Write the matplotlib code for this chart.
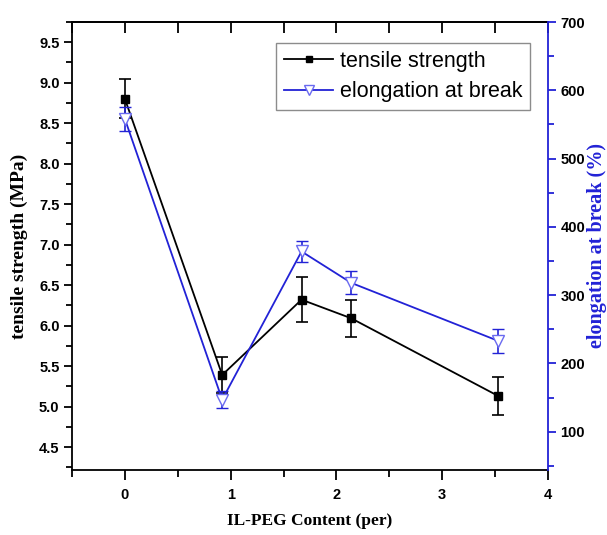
import matplotlib
matplotlib.use("Agg")
import matplotlib.pyplot as plt
from matplotlib.ticker import MultipleLocator
from matplotlib.lines import Line2D

# Data
content = [0.0, 0.92, 1.67, 2.14, 3.53]
tensile = [8.80, 5.39, 6.32, 6.09, 5.13]
tensile_err = [0.24, 0.22, 0.28, 0.23, 0.24]
elongation = [558, 147, 364, 318, 233]
elongation_err = [18, 12, 16, 17, 17]

x_label = "IL-PEG Content (per)"
y1_label = "tensile strength (MPa)"
y2_label = "elongation at break (%)"
legend_labels = ["tensile strength", "elongation at break"]

BLUE = "#2222d6"
BLUE_EDGE = "#6a6af0"

fig = plt.figure(figsize=(6.07, 5.35), dpi=100)
ax = fig.add_axes([72/607, 65/535, (548-72)/607, (470-22)/535])
ax2 = ax.twinx()

tick_font = dict(family="Liberation Sans", weight="bold", size=10.5)
lab_font = dict(family="Liberation Serif", weight="bold")

ax.errorbar(content, tensile, yerr=tensile_err, color="black", lw=1.3,
            marker="s", ms=5.5, mfc="black", mec="black",
            capsize=4, elinewidth=1.2, capthick=1.2, zorder=3)
ax2.errorbar(content, elongation, yerr=elongation_err, color=BLUE, lw=1.3,
             marker="v", ms=8.5, mfc="white", mec=BLUE_EDGE, mew=1.0,
             ecolor=BLUE, capsize=4, elinewidth=1.2, capthick=1.2, zorder=3)

ax.set_xlim(-0.5, 4.0)
ax.set_ylim(4.216, 9.75)
ax2.set_ylim(44, 700)

ax.xaxis.set_major_locator(MultipleLocator(1))
ax.xaxis.set_minor_locator(MultipleLocator(0.5))
ax.yaxis.set_major_locator(MultipleLocator(0.5))
ax.yaxis.set_minor_locator(MultipleLocator(0.25))
ax2.yaxis.set_major_locator(MultipleLocator(100))
ax2.yaxis.set_minor_locator(MultipleLocator(50))

ax.set_xticks([0, 1, 2, 3, 4])
ax.set_xticklabels(["0", "1", "2", "3", "4"], **tick_font)
ax.set_yticks([4.5, 5.0, 5.5, 6.0, 6.5, 7.0, 7.5, 8.0, 8.5, 9.0, 9.5])
ax.set_yticklabels([f"{v:.1f}" for v in ax.get_yticks()], **tick_font)
ax2.set_yticks([100, 200, 300, 400, 500, 600, 700])
ax2.set_yticklabels([str(v) for v in [100, 200, 300, 400, 500, 600, 700]], **tick_font)

ax.tick_params(axis="x", which="major", direction="out", length=7, width=1.3, pad=6,
               top=False)
ax.tick_params(axis="x", which="minor", direction="out", length=5, width=1.3, top=False)
ax.tick_params(axis="y", which="major", direction="out", length=6, width=1.3, pad=3)
ax.tick_params(axis="y", which="minor", direction="out", length=4, width=1.3)
ax2.tick_params(axis="y", which="major", direction="out", length=6, width=1.3,
                color=BLUE, pad=3)
ax2.tick_params(axis="y", which="minor", direction="out", length=4, width=1.3, color=BLUE)

# top axis ticks pointing inward
axt = ax.secondary_xaxis("top")
axt.set_xticks([0, 1, 2, 3, 4])
axt.xaxis.set_minor_locator(MultipleLocator(0.5))
axt.tick_params(axis="x", which="both", direction="in", length=8, width=1.3, labeltop=False)
axt.spines["top"].set_linewidth(1.3)

for s in ["left", "bottom", "top"]:
    ax.spines[s].set_linewidth(1.3)
for s in ["left", "bottom", "top"]:
    ax2.spines[s].set_visible(False)
ax2.spines["right"].set_color(BLUE)
ax2.spines["right"].set_linewidth(1.3)
ax.spines["right"].set_visible(False)

ax.set_xlabel(x_label, fontsize=12.5, labelpad=8, **lab_font)
ax.set_ylabel(y1_label, fontsize=14, labelpad=8, **lab_font)
ax2.set_ylabel(y2_label, fontsize=14.5, labelpad=1, color=BLUE, **lab_font)

handles = [
    Line2D([], [], color="black", lw=1.3, marker="s", ms=4.5, mfc="black", mec="black"),
    Line2D([], [], color=BLUE, lw=1.3, marker="v", ms=6.5, mfc="white", mec=BLUE_EDGE),
]
leg = ax2.legend(handles, legend_labels, loc="upper right",
                 bbox_to_anchor=(0.962, 0.953), borderaxespad=0,
                 prop=dict(family="Liberation Sans", size=15.5),
                 frameon=True, fancybox=False, edgecolor="#707070",
                 handlelength=2.3, handletextpad=0.3, borderpad=0.35,
                 labelspacing=0.45)
leg.get_frame().set_linewidth(1.0)

fig.savefig("out.png", dpi=100)
